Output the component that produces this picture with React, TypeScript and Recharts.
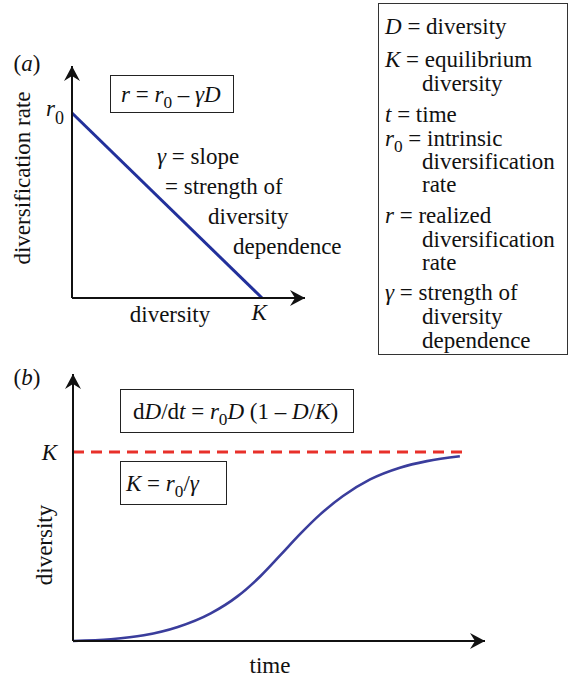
import React from "react";
import { LineChart, Line, XAxis, YAxis, ReferenceLine, ReferenceDot } from "recharts";

// panel (a): realized diversification rate falls linearly with diversity
const rateDiversity = [0, 1]; // D from 0 to K
const rateValues = [1, 0]; // r0 at D = 0, zero at D = K

// panel (b): diversity through time (K = 1)
const timePoints = [0, 0.98, 1.83, 2.71, 3.56, 4.25, 4.85, 5.36, 5.88, 6.39, 6.98, 7.68, 8.45, 9.15, 10];
const diversityValues = [0, 0.009, 0.03, 0.074, 0.146, 0.236, 0.344, 0.454, 0.568, 0.67, 0.767, 0.855, 0.917, 0.952, 0.978];
const equilibrium = 1;
const dashedEnd = 10.08;

const sub = { fontSize: "0.75em", verticalAlign: "-0.35em", lineHeight: 0 } as const;

const legendLines = [
  { y: 27, indent: false, content: <><i>D</i> = diversity</> },
  { y: 60, indent: false, content: <><i>K</i> = equilibrium</> },
  { y: 84, indent: true, content: <>diversity</> },
  { y: 115, indent: false, content: <><i>t</i> = time</> },
  { y: 139, indent: false, content: <><i>r</i><sub style={sub}>0</sub> = intrinsic</> },
  { y: 162, indent: true, content: <>diversification</> },
  { y: 185, indent: true, content: <>rate</> },
  { y: 216, indent: false, content: <><i>r</i> = realized</> },
  { y: 240, indent: true, content: <>diversification</> },
  { y: 263, indent: true, content: <>rate</> },
  { y: 293, indent: false, content: <><i>γ</i> = strength of</> },
  { y: 317, indent: true, content: <>diversity</> },
  { y: 341, indent: true, content: <>dependence</> },
];

const FONT = '"Liberation Serif", "Times New Roman", serif';
const INK = "#111";
const BLUE_A = "#22309b";
const BLUE_B = "#3a3d9c";
const RED = "#e8302a";

const rateData = rateDiversity.map((d, i) => ({ d, r: rateValues[i] }));
const growthData = timePoints.map((t, i) => ({ t, D: diversityValues[i] }));

const ArrowRight = (p: any) => (
  <path d={`M${p.cx} ${p.cy} L${p.cx - 15} ${p.cy - 8} L${p.cx - 10} ${p.cy} L${p.cx - 15} ${p.cy + 8} Z`} fill={INK} />
);
const ArrowUp = (p: any) => (
  <path d={`M${p.cx} ${p.cy} L${p.cx - 8} ${p.cy + 15} L${p.cx} ${p.cy + 10} L${p.cx + 8} ${p.cy + 15} Z`} fill={INK} />
);

const KTickX = (p: any) => (
  <text x={p.x - 3} y={p.y + 14} textAnchor="middle" fontFamily={FONT} fontSize={23} fontStyle="italic" fill={INK}>K</text>
);
const R0Tick = (p: any) => (
  <text x={p.x} y={p.y + 3} textAnchor="end" fontFamily={FONT} fontSize={23} fill={INK}>
    <tspan fontStyle="italic">r</tspan>
    <tspan fontSize={18} dy={8}>0</tspan>
  </text>
);
const KTickY = (p: any) => (
  <text x={p.x - 8} y={p.y + 8} textAnchor="end" fontFamily={FONT} fontSize={23} fontStyle="italic" fill={INK}>K</text>
);

function Txt({ x, y, children, rotate, size = 23 }: any) {
  return (
    <div
      style={{
        position: "absolute",
        left: x,
        top: y,
        transform: `translate(-50%, -50%)${rotate ? " rotate(-90deg)" : ""}`,
        whiteSpace: "nowrap",
        fontFamily: FONT,
        fontSize: size,
        lineHeight: 1,
        color: INK,
      }}
    >
      {children}
    </div>
  );
}

function Box({ left, top, width, height, padLeft, children }: any) {
  return (
    <div
      style={{
        position: "absolute",
        left,
        top,
        width,
        height,
        boxSizing: "border-box",
        border: "1.5px solid #222",
        display: "flex",
        alignItems: "center",
        paddingLeft: padLeft,
        fontFamily: FONT,
        fontSize: 23,
        lineHeight: 1,
        whiteSpace: "nowrap",
        background: "#fff",
      }}
    >
      <span>{children}</span>
    </div>
  );
}

export default function App() {
  const axisLine = { stroke: INK, strokeWidth: 2 };
  return (
    <div style={{ position: "absolute", left: 0, top: 0, width: 569, height: 679, background: "#fff", fontFamily: FONT, color: INK }}>
      {/* panel (a) */}
      <div style={{ position: "absolute", left: 0, top: 0 }}>
        <LineChart width={330} height={340} data={rateData} margin={{ top: 66, right: 25, left: 0, bottom: 0 }}>
          <XAxis dataKey="d" type="number" domain={[0, 1.226]} ticks={[1]} height={42} axisLine={axisLine} tickLine={false} tick={KTickX} />
          <YAxis type="number" domain={[0, 1.254]} ticks={[1]} width={72} axisLine={axisLine} tickLine={false} tick={R0Tick} />
          <Line type="linear" dataKey="r" stroke={BLUE_A} strokeWidth={3} dot={false} isAnimationActive={false} />
          <ReferenceDot x={1.226} y={0} r={0} shape={ArrowRight} />
          <ReferenceDot x={0} y={1.254} r={0} shape={ArrowUp} />
        </LineChart>
      </div>
      <Txt x={27} y={63}>(<i>a</i>)</Txt>
      <Txt x={22} y={178} rotate>diversification rate</Txt>
      <Txt x={170} y={314}>diversity</Txt>
      <Box left={110} top={75} width={124} height={38} padLeft={10}>
        <i>r</i> = <i>r</i><sub style={sub}>0</sub> – <i>γD</i>
      </Box>
      <div style={{ position: "absolute", left: 157, top: 142, fontFamily: FONT, fontSize: 23, lineHeight: "30px", whiteSpace: "nowrap" }}>
        <div><i>γ</i> = slope</div>
        <div style={{ marginLeft: 8 }}>= strength of</div>
        <div style={{ marginLeft: 51 }}>diversity</div>
        <div style={{ marginLeft: 76 }}>dependence</div>
      </div>

      {/* glossary */}
      <div style={{ position: "absolute", left: 378, top: 3, width: 190, height: 352, boxSizing: "border-box", border: "1.5px solid #333" }} />
      {legendLines.map((l, i) => (
        <div
          key={i}
          style={{
            position: "absolute",
            left: l.indent ? 422 : 385,
            top: l.y - 10,
            fontFamily: FONT,
            fontSize: 23,
            lineHeight: "20px",
            whiteSpace: "nowrap",
          }}
        >
          {l.content}
        </div>
      ))}

      {/* panel (b) */}
      <div style={{ position: "absolute", left: 0, top: 340 }}>
        <LineChart width={510} height={339} data={growthData} margin={{ top: 34, right: 25, left: 0, bottom: 0 }}>
          <XAxis dataKey="t" type="number" domain={[0, 10.65]} ticks={[]} height={38} axisLine={axisLine} tickLine={false} tick={false} />
          <YAxis type="number" domain={[0, 1.413]} ticks={[equilibrium]} width={73} axisLine={axisLine} tickLine={false} tick={KTickY} />
          <ReferenceLine
            segment={[{ x: 0, y: equilibrium }, { x: dashedEnd, y: equilibrium }]}
            stroke={RED}
            strokeWidth={3}
            strokeDasharray="11 7"
          />
          <Line type="monotone" dataKey="D" stroke={BLUE_B} strokeWidth={2.6} dot={false} isAnimationActive={false} />
          <ReferenceDot x={10.65} y={0} r={0} shape={ArrowRight} />
          <ReferenceDot x={0} y={1.413} r={0} shape={ArrowUp} />
        </LineChart>
      </div>
      <Txt x={27} y={377}>(<i>b</i>)</Txt>
      <Txt x={44} y={545} rotate>diversity</Txt>
      <Txt x={270} y={665}>time</Txt>
      <Box left={120} top={389} width={234} height={44} padLeft={12}>
        d<i>D</i>/d<i>t</i> = <i>r</i><sub style={sub}>0</sub><i>D</i> (1 – <i>D</i>/<i>K</i>)
      </Box>
      <Box left={120} top={461} width={107} height={44} padLeft={5}>
        <i>K</i> = <i>r</i><sub style={sub}>0</sub>/<i>γ</i>
      </Box>
    </div>
  );
}
